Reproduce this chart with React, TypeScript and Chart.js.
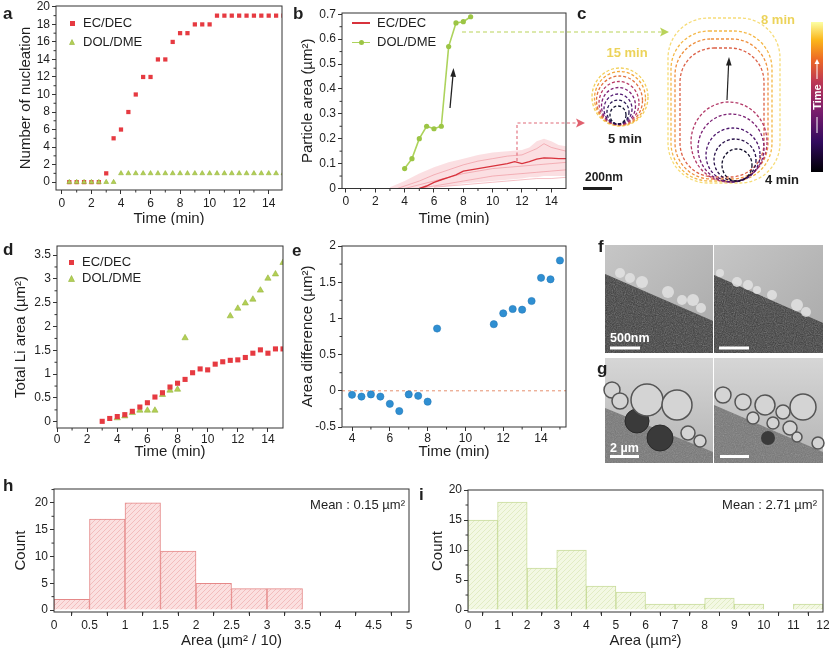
import { useEffect, useRef } from "react"
import { Chart, registerables } from "chart.js"
import type { Plugin } from "chart.js"

Chart.register(...registerables)

const FONT = "'Liberation Sans', Arial, Helvetica, sans-serif"
const INK = "#1e1e1e"
Chart.defaults.font.family = FONT
Chart.defaults.color = INK

const RED = "#e63a41"
const GREEN = "#b3cf55"
const GREEN_EDGE = "#95b63c"
const BLUE = "#2f8fd2"

// ---- a: number of nucleation
const NUC_TIME = [0.5, 1, 1.5, 2, 2.5, 3, 3.5, 4, 4.5, 5, 5.5, 6, 6.5, 7, 7.5, 8, 8.5, 9, 9.5, 10, 10.5, 11, 11.5, 12, 12.5, 13, 13.5, 14, 14.5, 15]
const NUC_EC = [0, 0, 0, 0, 0, 1, 5, 6, 8, 10, 12, 12, 14, 14, 16, 17, 17, 18, 18, 18, 19, 19, 19, 19, 19, 19, 19, 19, 19, 19]
const NUC_DOL = [0, 0, 0, 0, 0, 0, 0, 1, 1, 1, 1, 1, 1, 1, 1, 1, 1, 1, 1, 1, 1, 1, 1, 1, 1, 1, 1, 1, 1, 1]
const A_XTICKS = [0, 2, 4, 6, 8, 10, 12, 14]
const A_YTICKS = [0, 2, 4, 6, 8, 10, 12, 14, 16, 18, 20]

// ---- b: particle area
const B_DOL_TIME = [4, 4.5, 5, 5.5, 6, 6.5, 7, 7.5, 8, 8.5]
const B_DOL_AREA = [0.08, 0.12, 0.2, 0.25, 0.24, 0.25, 0.57, 0.665, 0.67, 0.69]
const B_EC_TIME = [5, 5.5, 6, 6.5, 7, 7.5, 8, 8.5, 9, 9.5, 10, 10.5, 11, 11.5, 12, 12.5, 13, 13.5, 14, 14.5, 15]
const B_EC_MEAN = [0, 0.01, 0.025, 0.035, 0.045, 0.055, 0.07, 0.075, 0.08, 0.085, 0.09, 0.095, 0.1, 0.108, 0.1, 0.108, 0.118, 0.123, 0.122, 0.12, 0.12]
const B_BAND_TIME = [3, 4, 5, 6, 7, 8, 9, 10, 11, 12, 12.5, 13, 13.5, 14, 14.5, 15]
const B_BAND_HIGH = [0.005, 0.03, 0.06, 0.085, 0.105, 0.12, 0.135, 0.145, 0.15, 0.155, 0.165, 0.19, 0.2, 0.19, 0.175, 0.17]
const B_BAND_LOW = [0, 0, 0, 0.005, 0.01, 0.02, 0.025, 0.03, 0.035, 0.04, 0.045, 0.045, 0.05, 0.05, 0.05, 0.05]
const B_P1_TIME = [3.5, 5, 6, 7, 8, 9, 10, 11, 12, 13, 13.5, 14, 15]
const B_P1_AREA = [0, 0.03, 0.055, 0.075, 0.095, 0.11, 0.12, 0.13, 0.135, 0.16, 0.18, 0.165, 0.15]
const B_P2_TIME = [4, 5, 6, 7, 8, 9, 10, 11, 12, 13, 14, 15]
const B_P2_AREA = [0, 0.015, 0.03, 0.045, 0.06, 0.07, 0.08, 0.085, 0.09, 0.095, 0.1, 0.105]
const B_P3_TIME = [5, 6, 7, 8, 9, 10, 11, 12, 13, 14, 15]
const B_P3_AREA = [0, 0.01, 0.02, 0.03, 0.04, 0.05, 0.055, 0.06, 0.065, 0.07, 0.075]
const B_P4_TIME = [6, 7, 8, 9, 10, 11, 12, 13, 14, 15]
const B_P4_AREA = [0.005, 0.01, 0.015, 0.02, 0.025, 0.03, 0.035, 0.04, 0.04, 0.045]
const B_XTICKS = [0, 2, 4, 6, 8, 10, 12, 14]
const B_YTICKS = [0, 0.1, 0.2, 0.3, 0.4, 0.5, 0.6, 0.7]

// ---- d: total Li area
const D_EC_TIME = [3, 3.5, 4, 4.5, 5, 5.5, 6, 6.5, 7, 7.5, 8, 8.5, 9, 9.5, 10, 10.5, 11, 11.5, 12, 12.5, 13, 13.5, 14, 14.5, 15]
const D_EC_AREA = [0.01, 0.07, 0.11, 0.15, 0.22, 0.31, 0.4, 0.52, 0.61, 0.73, 0.81, 0.89, 1.03, 1.11, 1.09, 1.21, 1.26, 1.29, 1.3, 1.35, 1.44, 1.51, 1.44, 1.53, 1.53]
const D_DOL_TIME = [4, 4.5, 5, 5.5, 6, 6.5, 7, 7.5, 8, 8.5, 11.5, 12, 12.5, 13, 13.5, 14, 14.5, 15]
const D_DOL_AREA = [0.08, 0.12, 0.19, 0.24, 0.24, 0.24, 0.57, 0.66, 0.68, 1.76, 2.22, 2.38, 2.49, 2.57, 2.76, 3.01, 3.1, 3.34]
const D_XTICKS = [0, 2, 4, 6, 8, 10, 12, 14]
const D_YTICKS = [0, 0.5, 1, 1.5, 2, 2.5, 3, 3.5]

// ---- e: area difference
const E_TIME = [4, 4.5, 5, 5.5, 6, 6.5, 7, 7.5, 8, 8.5, 11.5, 12, 12.5, 13, 13.5, 14, 14.5, 15]
const E_DIFF = [-0.055, -0.08, -0.05, -0.08, -0.18, -0.28, -0.05, -0.07, -0.15, 0.86, 0.92, 1.07, 1.13, 1.12, 1.24, 1.56, 1.54, 1.8]
const E_XTICKS = [4, 6, 8, 10, 12, 14]
const E_YTICKS = [-0.5, 0, 0.5, 1, 1.5, 2]

// ---- h, i: histograms
const H_EDGES = [0, 0.5, 1, 1.5, 2, 2.5, 3, 3.5]
const H_COUNTS = [2, 17, 20, 11, 5, 4, 4]
const H_XTICKS = [0, 0.5, 1, 1.5, 2, 2.5, 3, 3.5, 4, 4.5, 5]
const I_EDGES = [0, 1, 2, 3, 4, 5, 6, 7, 8, 9, 10, 11, 12]
const I_COUNTS = [15, 18, 7, 10, 4, 3, 1, 1, 2, 1, 0, 1]
const I_XTICKS = [0, 1, 2, 3, 4, 5, 6, 7, 8, 9, 10, 11, 12]
const COUNT_TICKS = [0, 5, 10, 15, 20]

const pts = (xs: number[], ys: number[]) => xs.map((x, i) => ({ x, y: ys[i] }))
const bins = (edges: number[], counts: number[]) =>
  counts.map((c, i) => ({ x: (edges[i] + edges[i + 1]) / 2, y: c }))

type Box = { left: number; top: number; width: number; height: number }
type Plot = { l: number; r: number; t: number; b: number }
type AxisSpec = {
  min: number; max: number; ticks: number[]; title: string
  titlePad: number; lineHeight?: number; tickPad?: number
}

// frame on all four sides + small minor ticks between the majors
const frameTicks: Plugin = {
  id: "frameTicks",
  afterDraw(chart) {
    const { ctx, chartArea: a, scales } = chart
    ctx.save()
    ctx.strokeStyle = "#333"
    ctx.lineWidth = 1
    ctx.strokeRect(a.left, a.top, a.right - a.left, a.bottom - a.top)
    ctx.beginPath()
    for (const id of ["x", "y"]) {
      const s: any = scales[id]
      const major = s.ticks.map((t: any) => t.value)
      const step = major[1] - major[0]
      for (let v = major[0] - step / 2; v < s.max; v += step) {
        if (v <= s.min) continue
        const p = s.getPixelForValue(v)
        if (id === "x") {
          ctx.moveTo(p, a.bottom)
          ctx.lineTo(p, a.bottom + 2.5)
        } else {
          ctx.moveTo(a.left, p)
          ctx.lineTo(a.left - 2.5, p)
        }
      }
    }
    ctx.stroke()
    ctx.restore()
  },
}

const zeroLine: Plugin = {
  id: "zeroLine",
  beforeDatasetsDraw(chart) {
    const { ctx, chartArea: a } = chart
    const y = chart.scales.y.getPixelForValue(0)
    ctx.save()
    ctx.strokeStyle = "#e5906f"
    ctx.lineWidth = 1
    ctx.setLineDash([3, 3])
    ctx.beginPath()
    ctx.moveTo(a.left, y)
    ctx.lineTo(a.right, y)
    ctx.stroke()
    ctx.restore()
  },
}

function axis(spec: AxisSpec, fit: (s: any) => void, horizontal: boolean) {
  return {
    type: "linear",
    min: spec.min,
    max: spec.max,
    offset: false,
    afterBuildTicks: (s: any) => {
      s.ticks = spec.ticks.map((value) => ({ value }))
    },
    afterFit: fit,
    ticks: {
      color: INK, font: { size: 12 }, padding: spec.tickPad ?? 2,
      autoSkip: false, maxRotation: 0, callback: (v: any) => String(v),
    },
    grid: { drawOnChartArea: false, drawTicks: true, tickLength: 4, tickColor: "#333", tickWidth: 1 },
    border: { display: false },
    title: {
      display: true,
      text: spec.title,
      color: INK,
      font: { size: 15, lineHeight: spec.lineHeight ?? 1.2 },
      padding: horizontal ? { top: 0, bottom: spec.titlePad } : { top: spec.titlePad, bottom: 0 },
    },
  }
}

function frameOptions(box: Box, plot: Plot, x: AxisSpec, y: AxisSpec) {
  const yWidth = plot.l - box.left
  const xHeight = box.top + box.height - plot.b
  return {
    responsive: true,
    maintainAspectRatio: false,
    animation: false,
    events: [],
    layout: {
      autoPadding: false,
      padding: { top: plot.t - box.top, right: box.left + box.width - plot.r, left: 0, bottom: 0 },
    },
    plugins: { legend: { display: false }, tooltip: { enabled: false } },
    scales: {
      x: axis(x, (s) => { s.height = xHeight; s.paddingLeft = 0; s.paddingRight = 0 }, true),
      y: axis(y, (s) => { s.width = yWidth; s.paddingTop = 0; s.paddingBottom = 0 }, false),
    },
  }
}

function hatch(base: string, line: string) {
  const c = document.createElement("canvas")
  c.width = 5
  c.height = 5
  const g = c.getContext("2d")!
  g.fillStyle = base
  g.fillRect(0, 0, 5, 5)
  g.strokeStyle = line
  g.lineWidth = 0.8
  g.beginPath()
  g.moveTo(0, 5); g.lineTo(5, 0)
  g.moveTo(-1, 1); g.lineTo(1, -1)
  g.moveTo(4, 6); g.lineTo(6, 4)
  g.stroke()
  return g.createPattern(c, "repeat")!
}

const boxA = { left: 0, top: 0, width: 290, height: 225 }
const plotA = { l: 56, r: 282, t: 6, b: 190 }
const makeA = () => ({
  type: "scatter",
  data: {
    datasets: [
      { label: "DOL/DME", data: pts(NUC_TIME, NUC_DOL), pointStyle: "triangle", pointRadius: 2.8, backgroundColor: GREEN, borderColor: GREEN_EDGE, borderWidth: 0.6 },
      { label: "EC/DEC", data: pts(NUC_TIME, NUC_EC), pointStyle: "rect", pointRadius: 3, backgroundColor: RED, borderWidth: 0 },
    ],
  },
  options: frameOptions(boxA, plotA,
    { min: -0.4, max: 14.9, ticks: A_XTICKS, title: "Time (min)", titlePad: 0, lineHeight: 0.8 },
    { min: -0.9, max: 20.1, ticks: A_YTICKS, title: "Number of nucleation", titlePad: 17 }),
  plugins: [frameTicks],
})

const boxB = { left: 290, top: 0, width: 284, height: 225 }
const plotB = { l: 342, r: 566, t: 13, b: 188.5 }
const thin = (xs: number[], ys: number[]) => ({
  data: pts(xs, ys), showLine: true, borderColor: "rgba(232,110,122,0.55)", borderWidth: 0.8, pointRadius: 0,
})
const makeB = () => ({
  type: "scatter",
  data: {
    datasets: [
      { label: "DOL/DME", data: pts(B_DOL_TIME, B_DOL_AREA), showLine: true, borderColor: "#add35c", borderWidth: 1.6, pointRadius: 2.6, pointBackgroundColor: "#9cc545", pointBorderWidth: 0 },
      { label: "EC/DEC", data: pts(B_EC_TIME, B_EC_MEAN), showLine: true, borderColor: "#d8323c", borderWidth: 1.4, pointRadius: 0 },
      thin(B_P1_TIME, B_P1_AREA),
      thin(B_P2_TIME, B_P2_AREA),
      thin(B_P3_TIME, B_P3_AREA),
      thin(B_P4_TIME, B_P4_AREA),
      { data: pts(B_BAND_TIME, B_BAND_HIGH), showLine: true, borderColor: "transparent", borderWidth: 0, pointRadius: 0, fill: "+1", backgroundColor: "rgba(243,150,160,0.3)" },
      { data: pts(B_BAND_TIME, B_BAND_LOW), showLine: true, borderColor: "transparent", borderWidth: 0, pointRadius: 0 },
    ],
  },
  options: frameOptions(boxB, plotB,
    { min: -0.27, max: 15, ticks: B_XTICKS, title: "Time (min)", titlePad: 0, lineHeight: 0.8 },
    { min: 0, max: 0.705, ticks: B_YTICKS, title: "Particle area (µm²)", titlePad: 9 }),
  plugins: [frameTicks],
})

const boxD = { left: 0, top: 225, width: 290, height: 235 }
const plotD = { l: 57, r: 283, t: 246, b: 428 }
const makeD = () => ({
  type: "scatter",
  data: {
    datasets: [
      { label: "EC/DEC", data: pts(D_EC_TIME, D_EC_AREA), pointStyle: "rect", pointRadius: 3.6, backgroundColor: RED, borderWidth: 0 },
      { label: "DOL/DME", data: pts(D_DOL_TIME, D_DOL_AREA), pointStyle: "triangle", pointRadius: 3.6, backgroundColor: GREEN, borderColor: GREEN_EDGE, borderWidth: 0.6 },
    ],
  },
  options: frameOptions(boxD, plotD,
    { min: 0, max: 15, ticks: D_XTICKS, title: "Time (min)", titlePad: 1, lineHeight: 1, tickPad: 0 },
    { min: -0.13, max: 3.69, ticks: D_YTICKS, title: "Total Li area (µm²)", titlePad: 12 }),
  plugins: [frameTicks],
})

const boxE = { left: 290, top: 225, width: 284, height: 235 }
const plotE = { l: 342, r: 566, t: 246, b: 427 }
const makeE = () => ({
  type: "scatter",
  data: {
    datasets: [
      { data: pts(E_TIME, E_DIFF), pointRadius: 3.6, backgroundColor: BLUE, borderColor: "#2379b8", borderWidth: 0.6 },
    ],
  },
  options: frameOptions(boxE, plotE,
    { min: 3.47, max: 15.32, ticks: E_XTICKS, title: "Time (min)", titlePad: 1, lineHeight: 1, tickPad: 0 },
    { min: -0.5, max: 2, ticks: E_YTICKS, title: "Area difference (µm²)", titlePad: 9 }),
  plugins: [zeroLine, frameTicks],
})

const boxH = { left: 0, top: 470, width: 415, height: 178 }
const plotH = { l: 54, r: 409, t: 489, b: 612 }
const makeH = () => ({
  type: "bar",
  data: {
    datasets: [
      { data: bins(H_EDGES, H_COUNTS), backgroundColor: hatch("#fbe0e0", "#f0b4b4"), borderColor: "#e58888", borderWidth: 1, barPercentage: 1, categoryPercentage: 1 },
    ],
  },
  options: frameOptions(boxH, plotH,
    { min: 0, max: 5, ticks: H_XTICKS, title: "Area (µm² / 10)", titlePad: 0, lineHeight: 1 },
    { min: -0.37, max: 22.6, ticks: COUNT_TICKS, title: "Count", titlePad: 12 }),
  plugins: [frameTicks],
})

const boxI = { left: 415, top: 470, width: 416, height: 178 }
const plotI = { l: 468, r: 823, t: 490, b: 612 }
const makeI = () => ({
  type: "bar",
  data: {
    datasets: [
      { data: bins(I_EDGES, I_COUNTS), backgroundColor: hatch("#f3f8e3", "#dde9bd"), borderColor: "#c9dd9c", borderWidth: 1, barPercentage: 1, categoryPercentage: 1 },
    ],
  },
  options: frameOptions(boxI, plotI,
    { min: 0, max: 12, ticks: I_XTICKS, title: "Area (µm²)", titlePad: 0, lineHeight: 1 },
    { min: -0.33, max: 20, ticks: COUNT_TICKS, title: "Count", titlePad: 14 }),
  plugins: [frameTicks],
})

function ChartBox({ box, make }: { box: Box; make: () => any }) {
  const ref = useRef<HTMLCanvasElement>(null)
  useEffect(() => {
    if (!ref.current) return
    const chart = new Chart(ref.current, make())
    return () => chart.destroy()
  }, [make])
  return (
    <div style={{ position: "absolute", left: box.left, top: box.top, width: box.width, height: box.height }}>
      <canvas ref={ref} />
    </div>
  )
}

const abs = (left: number, top: number, extra: object = {}) => ({ position: "absolute" as const, left, top, ...extra })

function PanelLabel({ x, y, text }: { x: number; y: number; text: string }) {
  return <div style={abs(x, y, { fontWeight: 700, fontSize: 17, lineHeight: "17px" })}>{text}</div>
}

function LegendText({ x, y, text }: { x: number; y: number; text: string }) {
  return <div style={abs(x, y - 8, { fontSize: 13, lineHeight: "16px", whiteSpace: "nowrap" })}>{text}</div>
}

function Square({ x, y, s }: { x: number; y: number; s: number }) {
  return <div style={abs(x - s / 2, y - s / 2, { width: s, height: s, background: RED })} />
}

function Tri({ x, y, s }: { x: number; y: number; s: number }) {
  return (
    <svg style={abs(x - s / 2, y - s / 2)} width={s} height={s}>
      <polygon points={`${s / 2},0.5 ${s - 0.5},${s - 0.5} 0.5,${s - 0.5}`} fill={GREEN} stroke={GREEN_EDGE} strokeWidth={0.6} />
    </svg>
  )
}

const smallRings = [
  { cx: 620, cy: 97, rx: 28, ry: 29, c: "#f2cf58" },
  { cx: 620, cy: 98.5, rx: 25.5, ry: 27, c: "#f3a53c" },
  { cx: 619.5, cy: 100.5, rx: 23, ry: 24.5, c: "#e0703f" },
  { cx: 619, cy: 103, rx: 20, ry: 21.5, c: "#b93d67" },
  { cx: 618.5, cy: 106, rx: 17, ry: 18.5, c: "#822277" },
  { cx: 618, cy: 109, rx: 14, ry: 15, c: "#521a72" },
  { cx: 618, cy: 112, rx: 11, ry: 12, c: "#2a1a55" },
  { cx: 618, cy: 115, rx: 8, ry: 9, c: "#151434" },
]

const bigShapes = [
  { x: 668, y: 18, w: 112, h: 165, r: 40, c: "#f6dc78" },
  { x: 671, y: 31, w: 101, h: 150, r: 38, c: "#f4b848" },
  { x: 675, y: 39, w: 93, h: 140, r: 36, c: "#ee9140" },
  { x: 680, y: 48, w: 84, h: 129, r: 34, c: "#dc6148" },
]

const bigRings = [
  { cx: 729, cy: 142, rx: 38, ry: 40, c: "#b43c6a" },
  { cx: 731, cy: 148, rx: 33, ry: 34, c: "#7c2275" },
  { cx: 733, cy: 155, rx: 27, ry: 27, c: "#4c166c" },
  { cx: 735, cy: 160, rx: 21, ry: 21, c: "#28114a" },
  { cx: 737, cy: 165, rx: 15, ry: 16, c: "#14102c" },
]

const fLeftBalls = [[620, 273, 5], [630, 278, 5], [642, 282, 6], [668, 292, 6], [682, 300, 5], [693, 300, 6], [701, 308, 5]]
const fRightBalls = [[720, 273, 4], [737, 282, 5], [748, 285, 5], [757, 290, 4], [772, 295, 5], [797, 305, 6], [806, 312, 5]]
const gLeftBalls = [[612, 390, 8], [620, 401, 8], [647, 400, 16], [677, 405, 15], [688, 433, 7], [700, 441, 6]]
const gLeftDark = [[637, 421, 12], [660, 438, 13]]
const gRightBalls = [[723, 395, 8], [743, 402, 8], [765, 405, 10], [783, 412, 7], [803, 407, 13], [753, 418, 6], [773, 423, 6], [790, 428, 7], [797, 437, 5], [818, 443, 6]]
const gRightDark = [[768, 438, 7]]

function Overlay() {
  return (
    <svg style={abs(0, 0, { pointerEvents: "none" })} width={831} height={648}>
      <defs>
        <filter id="grain" x="0" y="0" width="100%" height="100%">
          <feTurbulence type="fractalNoise" baseFrequency="0.9" numOctaves="2" seed="4" result="n" />
          <feColorMatrix in="n" type="saturate" values="0" result="g" />
          <feComposite in="g" in2="SourceGraphic" operator="in" />
        </filter>
        <linearGradient id="inferno" x1="0" y1="1" x2="0" y2="0">
          <stop offset="0" stopColor="#000004" />
          <stop offset="0.2" stopColor="#320a5e" />
          <stop offset="0.4" stopColor="#781c6d" />
          <stop offset="0.6" stopColor="#bc3754" />
          <stop offset="0.75" stopColor="#ed6925" />
          <stop offset="0.88" stopColor="#fbb61a" />
          <stop offset="1" stopColor="#fcffa4" />
        </linearGradient>
        <linearGradient id="fbg" x1="0" y1="0" x2="1" y2="1">
          <stop offset="0" stopColor="#c6c6c6" />
          <stop offset="1" stopColor="#a9a9a9" />
        </linearGradient>
        <linearGradient id="gbg" x1="0" y1="0" x2="0" y2="1">
          <stop offset="0" stopColor="#d6d6d6" />
          <stop offset="1" stopColor="#b4b4b4" />
        </linearGradient>
      </defs>

      {/* arrows linking b to c */}
      <line x1={462} y1={32} x2={662} y2={32} stroke="#b9d35a" strokeWidth={1.2} strokeDasharray="4 3" />
      <polygon points="669,32 660,27.5 662,32 660,36.5" fill="#b9d35a" />
      <polyline points="517,161 517,123 578,123" fill="none" stroke="#e06a78" strokeWidth={1.1} strokeDasharray="3 2.5" />
      <polygon points="585,123 576,118.5 578,123 576,127.5" fill="#e0606e" />
      <line x1={450} y1={108} x2={453} y2={75} stroke="#222" strokeWidth={1.3} />
      <polygon points="453.5,68 450.3,76.5 456,77" fill="#222" />

      {/* c: particle outlines */}
      {smallRings.map((r, i) => (
        <ellipse key={"s" + i} cx={r.cx} cy={r.cy} rx={r.rx} ry={r.ry} fill="none" stroke={r.c} strokeWidth={1.3} strokeDasharray="3 2" />
      ))}
      {bigShapes.map((r, i) => (
        <rect key={"b" + i} x={r.x} y={r.y} width={r.w} height={r.h} rx={r.r} fill="none" stroke={r.c} strokeWidth={1.3} strokeDasharray="3 2" />
      ))}
      {bigRings.map((r, i) => (
        <ellipse key={"r" + i} cx={r.cx} cy={r.cy} rx={r.rx} ry={r.ry} fill="none" stroke={r.c} strokeWidth={1.3} strokeDasharray="3 2" />
      ))}
      <line x1={727} y1={100} x2={728.6} y2={64} stroke="#222" strokeWidth={1.2} />
      <polygon points="729,57 726,65.5 731.6,65.5" fill="#222" />
      <text x={627} y={57} textAnchor="middle" fontSize={13} fontWeight={700} fill="#ecd35a">15 min</text>
      <text x={625} y={143} textAnchor="middle" fontSize={13} fontWeight={700} fill="#1e1e1e">5 min</text>
      <text x={778} y={24} textAnchor="middle" fontSize={13} fontWeight={700} fill="#ecd35a">8 min</text>
      <text x={782} y={184} textAnchor="middle" fontSize={13} fontWeight={700} fill="#1e1e1e">4 min</text>
      <text x={604} y={181} textAnchor="middle" fontSize={12} fontWeight={700} fill="#1e1e1e">200nm</text>
      <rect x={583} y={187} width={29} height={3} fill="#1e1e1e" />
      <rect x={811} y={22} width={12} height={150} fill="url(#inferno)" />
      <line x1={817} y1={133} x2={817} y2={117} stroke="#fff" strokeWidth={1} />
      <line x1={817} y1={79} x2={817} y2={63} stroke="#fff" strokeWidth={1} />
      <polygon points="817,59 814.5,64 819.5,64" fill="#fff" />
      <text x={817} y={97} transform="rotate(-90 817 97)" textAnchor="middle" dominantBaseline="central" fontSize={11} fontWeight={700} fill="#fff">Time</text>

      {/* f: TEM frames */}
      <rect x={605} y={245} width={108} height={108} fill="url(#fbg)" />
      <polygon points="605,274 713,321 713,353 605,353" fill="#3a3a3a" />
      <polygon points="605,274 713,321 713,353 605,353" fill="#888" opacity={0.45} filter="url(#grain)" />
      {fLeftBalls.map(([cx, cy, r], i) => <circle key={"fl" + i} cx={cx} cy={cy} r={r} fill="#e2e2e2" opacity={0.85} />)}
      <rect x={714} y={245} width={109} height={108} fill="url(#fbg)" />
      <polygon points="714,275 823,323 823,353 714,353" fill="#3a3a3a" />
      <polygon points="714,275 823,323 823,353 714,353" fill="#888" opacity={0.45} filter="url(#grain)" />
      {fRightBalls.map(([cx, cy, r], i) => <circle key={"fr" + i} cx={cx} cy={cy} r={r} fill="#e2e2e2" opacity={0.85} />)}
      <text x={610} y={342} fontSize={12.5} fontWeight={700} fill="#fff">500nm</text>
      <rect x={610} y={346.5} width={30} height={3} fill="#fff" />
      <rect x={719} y={346.5} width={30} height={3} fill="#fff" />

      {/* g: TEM frames */}
      <rect x={605} y={358} width={108} height={105} fill="url(#gbg)" />
      <polygon points="605,408 713,452 713,463 605,463" fill="#767676" />
      <polygon points="605,408 713,452 713,463 605,463" fill="#999" opacity={0.35} filter="url(#grain)" />
      {gLeftDark.map(([cx, cy, r], i) => <circle key={"gld" + i} cx={cx} cy={cy} r={r} fill="#3a3a3a" stroke="#2a2a2a" strokeWidth={1} />)}
      {gLeftBalls.map(([cx, cy, r], i) => <circle key={"gl" + i} cx={cx} cy={cy} r={r} fill="#d4d4d4" stroke="#555" strokeWidth={1.5} />)}
      <rect x={714} y={358} width={109} height={105} fill="url(#gbg)" />
      <polygon points="714,405 823,452 823,463 714,463" fill="#767676" />
      <polygon points="714,405 823,452 823,463 714,463" fill="#999" opacity={0.35} filter="url(#grain)" />
      {gRightDark.map(([cx, cy, r], i) => <circle key={"grd" + i} cx={cx} cy={cy} r={r} fill="#3a3a3a" />)}
      {gRightBalls.map(([cx, cy, r], i) => <circle key={"gr" + i} cx={cx} cy={cy} r={r} fill="#d4d4d4" stroke="#555" strokeWidth={1.5} />)}
      <text x={610} y={452} fontSize={12.5} fontWeight={700} fill="#fff">2 µm</text>
      <rect x={610} y={455} width={29} height={3} fill="#fff" />
      <rect x={720} y={455} width={29} height={3} fill="#fff" />
    </svg>
  )
}

export default function App() {
  return (
    <div style={{ position: "absolute", left: 0, top: 0, width: 831, height: 648, background: "#fff", fontFamily: FONT, color: INK, overflow: "hidden" }}>
      <ChartBox box={boxA} make={makeA} />
      <ChartBox box={boxB} make={makeB} />
      <ChartBox box={boxD} make={makeD} />
      <ChartBox box={boxE} make={makeE} />
      <ChartBox box={boxH} make={makeH} />
      <ChartBox box={boxI} make={makeI} />
      <Overlay />

      {/* legends */}
      <Square x={72} y={23} s={5} />
      <LegendText x={83} y={23} text="EC/DEC" />
      <Tri x={72} y={42} s={6} />
      <LegendText x={83} y={42} text="DOL/DME" />

      <div style={abs(352, 22, { width: 18, height: 1.5, background: "#d8323c" })} />
      <LegendText x={377} y={23} text="EC/DEC" />
      <div style={abs(352, 41.5, { width: 18, height: 1.5, background: "#add35c" })} />
      <div style={abs(358.5, 39.5, { width: 5, height: 5, borderRadius: 3, background: "#9cc545" })} />
      <LegendText x={377} y={42} text="DOL/DME" />

      <Square x={71} y={262} s={5} />
      <LegendText x={82} y={262} text="EC/DEC" />
      <Tri x={71} y={278} s={7} />
      <LegendText x={82} y={278} text="DOL/DME" />

      <div style={abs(0, 497, { width: 405, textAlign: "right", fontSize: 13, lineHeight: "16px" })}>Mean : 0.15 µm²</div>
      <div style={abs(0, 497, { width: 817, textAlign: "right", fontSize: 13, lineHeight: "16px" })}>Mean : 2.71 µm²</div>

      <PanelLabel x={3} y={5} text="a" />
      <PanelLabel x={293} y={5} text="b" />
      <PanelLabel x={577} y={5} text="c" />
      <PanelLabel x={3} y={241} text="d" />
      <PanelLabel x={292} y={242} text="e" />
      <PanelLabel x={598} y={238} text="f" />
      <PanelLabel x={597} y={360} text="g" />
      <PanelLabel x={3} y={477} text="h" />
      <PanelLabel x={419} y={486} text="i" />
    </div>
  )
}
